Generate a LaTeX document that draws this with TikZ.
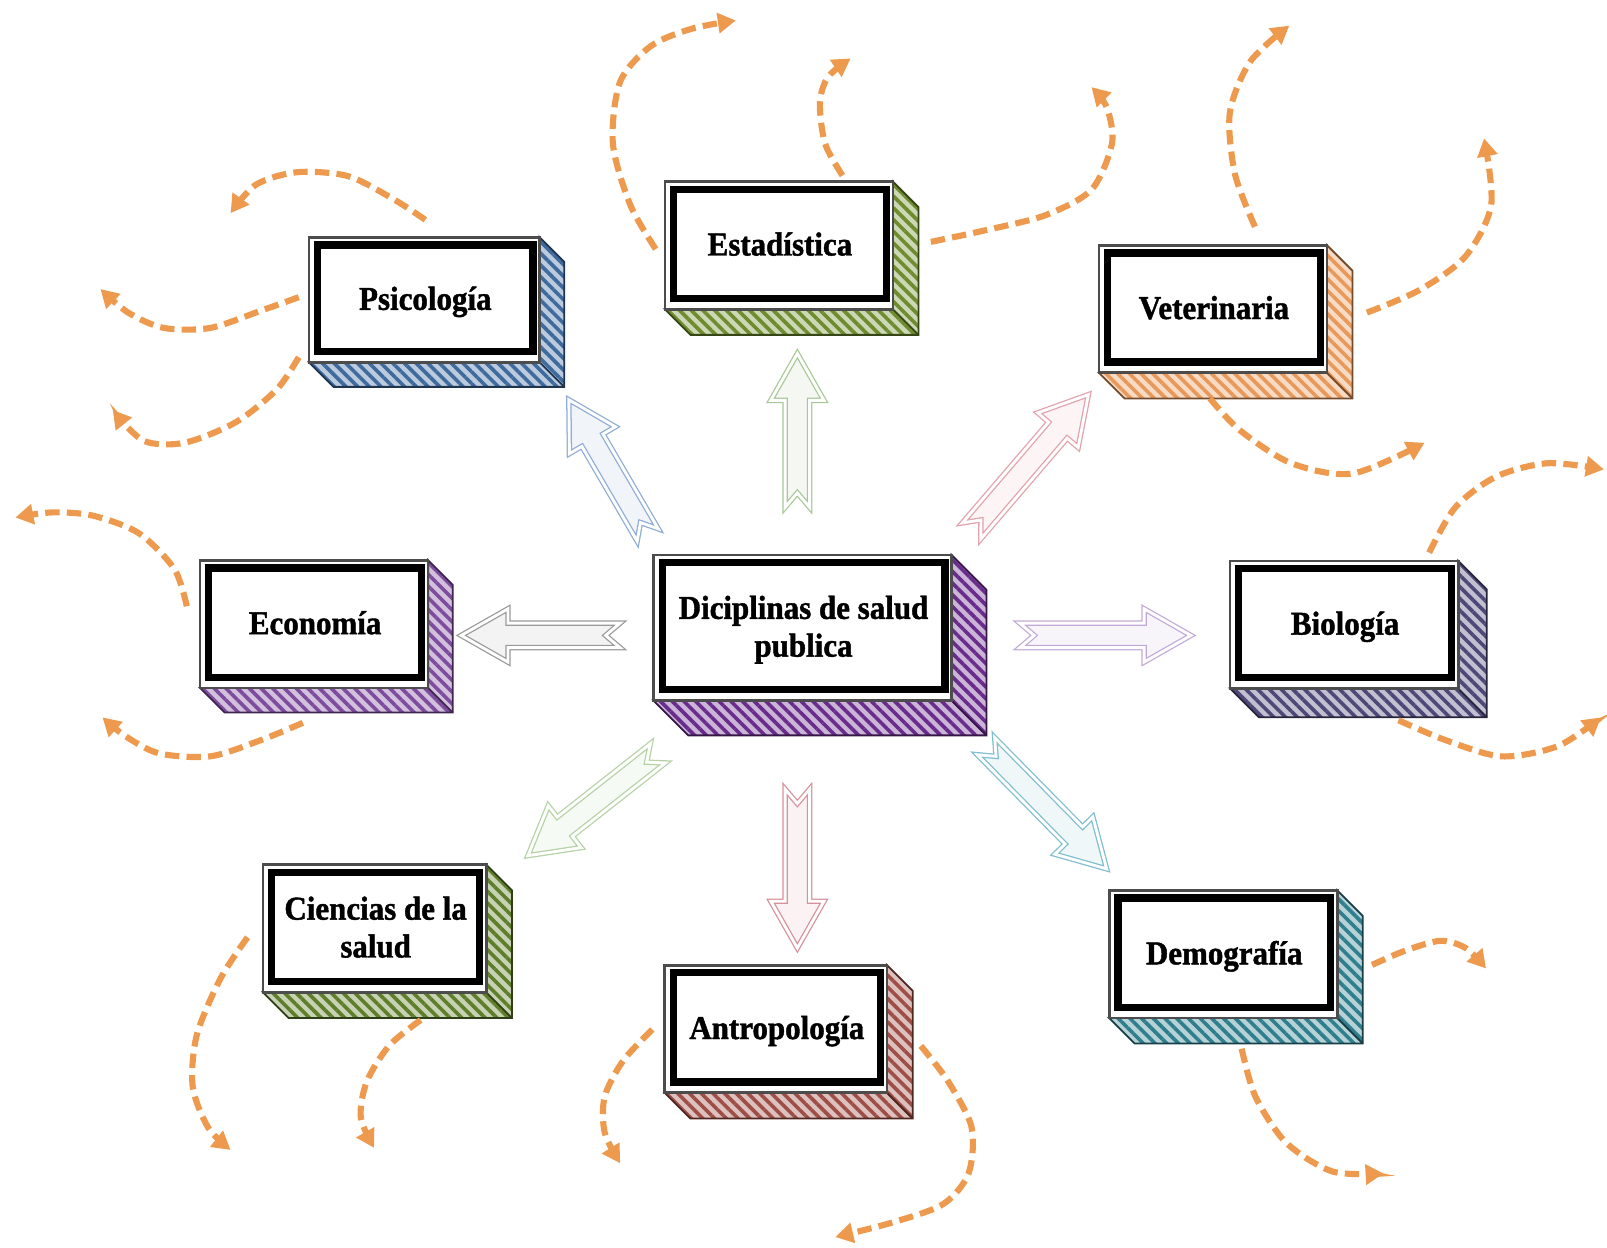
\documentclass[tikz,border=0pt]{standalone}
\usepackage{fontspec}
\newfontfamily\cajafont{Liberation Serif}[FakeStretch=0.93,BoldFeatures={FakeBold=1.3}]
\usetikzlibrary{calc,arrows.meta,patterns.meta}
\pgfdeclarelayer{fondo}
\pgfsetlayers{fondo,main}
\definecolor{psiazul}{HTML}{3E6A9E}
\definecolor{estverde}{HTML}{6E8C2E}
\definecolor{vetnaranja}{HTML}{E8995A}
\definecolor{ecomorado}{HTML}{7E4C9E}
\definecolor{biomorado}{HTML}{4E4878}
\definecolor{cieverde}{HTML}{5E7E2A}
\definecolor{antrojo}{HTML}{9E4E46}
\definecolor{demteal}{HTML}{2E7E8E}
\definecolor{cenmorado}{HTML}{6A2C8C}
\definecolor{ola}{HTML}{EE9A4E}
\definecolor{fverde}{HTML}{A8C896}
\definecolor{fazul}{HTML}{8EACD6}
\definecolor{frosa}{HTML}{E2A2AA}
\definecolor{fgris}{HTML}{9A9A9A}
\definecolor{flila}{HTML}{C2AAD8}
\definecolor{fverdeb}{HTML}{B4D2A4}
\definecolor{frojo}{HTML}{D8909A}
\definecolor{fteal}{HTML}{7EBECE}
% caja 3D: nodo, color, profundidad
\newcommand\caja[3]{%
  \path ($(#1.north west)+(-5,-4)$) coordinate (#1nw) ($(#1.south east)+(3,7)$) coordinate (#1se);
  \path (#1nw -| #1se) coordinate (#1ne) (#1nw |- #1se) coordinate (#1sw);
  \path[lado=#2] (#1ne) -- ($(#1ne)+(#3,#3)$) -- ($(#1se)+(#3,#3)$) -- ($(#1sw)+(#3,#3)$) -- (#1sw) -- (#1se) -- cycle;
  \draw[draw=#2!50!black,line width=1pt] (#1se) -- ($(#1se)+(#3,#3)$);
  \draw[frente] (#1nw) rectangle (#1se);}
% flecha de bloque: cola, punta, color
\newcommand\flecha[3]{%
  \path[bloque=#3] let \p1=(#1), \p2=(#2), \n1={atan2(\y2-\y1,\x2-\x1)}, \n2={veclen(\x2-\x1,\y2-\y1)} in
  [shift={(\p1)},rotate=\n1] (0pt,6.8pt) -- ({\n2-26pt},6.8pt) -- ({\n2-26pt},14.8pt) -- (\n2,0pt)
  -- ({\n2-26pt},-14.8pt) -- ({\n2-26pt},-6.8pt) -- (0pt,-6.8pt) -- (8pt,0pt) -- cycle;}
\begin{document}
\begin{tikzpicture}[x=0.02cm,y=-0.02cm,
  disc/.style={draw=black,line width=4pt,fill=white,align=center,inner sep=0pt,text depth=0pt,
    minimum width=4.15cm,minimum height=2.13cm,font={\cajafont\bfseries\fontsize{18.5pt}{21pt}\selectfont}},
  lado/.style={fill=#1!35,postaction={pattern={Lines[angle=-45,distance=4.6pt,line width=2pt]},pattern color=#1},
    postaction={draw=#1!50!black,line width=1pt}},
  frente/.style={fill=white,draw=black!70,line width=1.5pt},
  bloque/.style={draw=#1,fill=#1!12,line width=0.7pt,double=white,double distance=1.6pt},
  wave/.style={draw=ola,line width=3.4pt,dash pattern=on 8pt off 4pt,-{Triangle[length=10pt,width=11pt]}}]
\useasboundingbox (0,0) rectangle (1568,1217);
% disciplinas
\node[disc,minimum width=5.52cm,minimum height=2.48cm] (cen) at (784,611) {Diciplinas de salud\\publica};
\node[disc,minimum width=4.2cm,minimum height=2.08cm] (psi) at (415,291) {Psicología};
\node[disc] (est) at (761,238) {Estadística};
\node[disc] (vet) at (1184.5,300) {Veterinaria};
\node[disc] (eco) at (307.5,607.5) {Economía};
\node[disc] (bio) at (1312.5,608) {Biología};
\node[disc,minimum width=4.06cm] (cie) at (366.5,904.5) {Ciencias de la\\salud};
\node[disc,minimum width=4.04cm] (ant) at (758,1002.5) {Antropología};
\node[disc] (dem) at (1194.5,929.5) {Demografía};
\begin{pgfonlayer}{fondo}
\caja{cen}{cenmorado}{34}
\caja{psi}{psiazul}{24}
\caja{est}{estverde}{25}
\caja{vet}{vetnaranja}{25}
\caja{eco}{ecomorado}{24}
\caja{bio}{biomorado}{28}
\caja{cie}{cieverde}{25}
\caja{ant}{antrojo}{25}
\caja{dem}{demteal}{25}
\end{pgfonlayer}
% flechas de bloque
\coordinate (c1) at (778,495); \coordinate (p1) at (778,345);
\coordinate (c2) at (632,522); \coordinate (p2) at (555,390);
\coordinate (c3) at (948,518); \coordinate (p3) at (1062,385);
\coordinate (c4) at (605,620); \coordinate (p4) at (450,620);
\coordinate (c5) at (995,620); \coordinate (p5) at (1162,620);
\coordinate (c6) at (642,735); \coordinate (p6) at (515,835);
\coordinate (c7) at (778,770); \coordinate (p7) at (778,925);
\coordinate (c8) at (962,728); \coordinate (p8) at (1080,848);
\flecha{c1}{p1}{fverde}
\flecha{c2}{p2}{fazul}
\flecha{c3}{p3}{frosa}
\flecha{c4}{p4}{fgris}
\flecha{c5}{p5}{flila}
\flecha{c6}{p6}{fverdeb}
\flecha{c7}{p7}{frojo}
\flecha{c8}{p8}{fteal}
% ondas
\draw[wave] plot[smooth] coordinates {($(est.west)+(-14,5)$) (615,200) (598,140) (605,80) (635,45) (675,28) (718,20)};
\draw[wave] plot[smooth] coordinates {($(est.north)+(61,-10)$) (805,140) (800,100) (808,75) (830,57)};
\draw[wave] plot[smooth] coordinates {($(est.east)+(40,-2)$) (960,225) (1020,210) (1065,185) (1085,140) (1080,105) (1065,85)};
\draw[wave] plot[smooth] coordinates {($(psi.north)+(0,-21)$) (385,195) (340,172) (290,168) (250,180) (225,208)};
\draw[wave] plot[smooth] coordinates {($(psi.west)+(-15,-1)$) (255,303) (205,320) (160,320) (125,305) (98,282)};
\draw[wave] plot[smooth] coordinates {($(psi.south west)+(-15,2)$) (270,380) (230,412) (180,432) (140,430) (110,400)};
\draw[wave] plot[smooth] coordinates {($(eco.west)+(-18,-16)$) (170,555) (135,520) (90,503) (50,500) (15,505)};
\draw[wave] plot[smooth] coordinates {($(eco.south)+(-12,41)$) (255,722) (205,738) (155,735) (122,718) (100,700)};
\draw[wave] plot[smooth] coordinates {($(cie.west)+(-20,10)$) (215,955) (192,1010) (188,1060) (203,1100) (225,1122)};
\draw[wave] plot[smooth] coordinates {($(cie.south)+(44,34)$) (380,1020) (358,1055) (352,1090) (365,1120)};
\draw[wave] plot[smooth] coordinates {($(ant.west)+(-17,2)$) (608,1035) (590,1070) (590,1105) (605,1135)};
\draw[wave] plot[smooth] coordinates {($(ant.east)+(36,18)$) (925,1055) (948,1100) (945,1145) (920,1175) (870,1193) (815,1207)};
\draw[wave] plot[smooth] coordinates {($(dem.east)+(37,12)$) (1370,928) (1405,918) (1430,925) (1450,945)};
\draw[wave] plot[smooth] coordinates {($(dem.south)+(17,37)$) (1225,1070) (1255,1115) (1300,1143) (1350,1145)};
\draw[wave] plot[smooth] coordinates {($(bio.north)+(82,-12)$) (1420,495) (1460,465) (1510,452) (1565,458)};
\draw[wave] plot[smooth] coordinates {($(bio.south)+(52,38)$) (1410,722) (1465,738) (1520,728) (1562,700)};
\draw[wave] plot[smooth] coordinates {($(vet.north)+(40,-22)$) (1205,170) (1200,110) (1220,60) (1258,25)};
\draw[wave] plot[smooth] coordinates {($(vet.east)+(42,5)$) (1385,283) (1430,250) (1455,200) (1448,135)};
\draw[wave] plot[smooth] coordinates {($(vet.south)+(-4,32)$) (1210,420) (1260,452) (1320,462) (1390,432)};
\end{tikzpicture}
\end{document}
